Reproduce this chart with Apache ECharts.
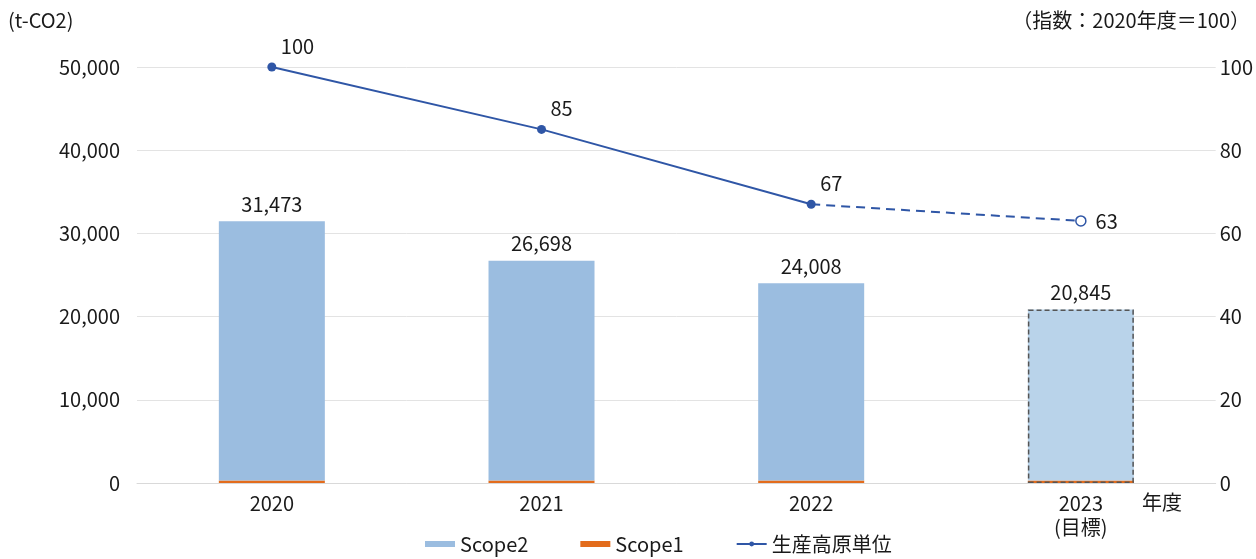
<!DOCTYPE html>
<html><head><meta charset="utf-8">
<script src="https://cdn.jsdelivr.net/npm/echarts@6/dist/echarts.min.js"></script>
<style>html,body{margin:0;padding:0;background:#fff}#c{width:1256px;height:559px}</style>
</head><body><div id="c"></div>
<script>
const categories = ['2020', '2021', '2022', '2023\n(目標)'];
const totals = [31473, 26698, 24008, 20845];
const scope1 = [300, 300, 300, 300];
const scope2 = [31173, 26398, 23708, 20545];
const intensityActual = [100, 85, 67, null];
const intensityTarget = [null, null, 67, 63];
const targetOutline = [null, null, null, 20845];

const FONT = '"Noto Sans CJK JP", "Noto Sans", sans-serif';
const FS = 20;
const TXT = '#1a1a1a';
const blue = '#2f56a6';
const chart = echarts.init(document.getElementById('c'));
chart.setOption({
  animation: false,
  textStyle: { fontFamily: FONT, color: TXT },
  grid: { left: 137, right: 39, top: 67, bottom: 76, containLabel: false },
  legend: {
    bottom: 0, left: 420, itemGap: 52, itemWidth: 30, itemHeight: 6,
    textStyle: { fontFamily: FONT, fontSize: FS, color: TXT },
    data: [
      { name: 'Scope2', icon: 'rect' },
      { name: 'Scope1', icon: 'rect' },
      { name: '生産高原単位' }
    ]
  },
  xAxis: {
    type: 'category', data: categories,
    axisLine: { lineStyle: { color: '#d9d9d9' } },
    axisTick: { show: false },
    axisLabel: { fontFamily: FONT, fontSize: FS, color: TXT, margin: 8, lineHeight: 24 }
  },
  yAxis: [
    {
      type: 'value', min: 0, max: 50000, interval: 10000,
      axisLine: { show: false }, axisTick: { show: false },
      splitLine: { lineStyle: { color: '#e3e3e3' } },
      axisLabel: { fontFamily: FONT, fontSize: FS, color: TXT, margin: 17,
        formatter: v => v.toLocaleString('en-US') }
    },
    {
      type: 'value', min: 0, max: 100, interval: 20,
      axisLine: { show: false }, axisTick: { show: false },
      splitLine: { show: false },
      axisLabel: { fontFamily: FONT, fontSize: FS, color: TXT, margin: 4 }
    }
  ],
  graphic: [
    { type: 'text', left: 8, top: 10, style: { text: '(t-CO2)', font: FS + 'px ' + FONT, fill: TXT } },
    { type: 'text', right: 6, top: 10, style: { text: '（指数：2020年度＝100）', font: FS + 'px ' + FONT, fill: TXT } },
    { type: 'text', left: 1142, top: 492, style: { text: '年度', font: FS + 'px ' + FONT, fill: TXT } }
  ],
  series: [
    {
      name: 'Scope1', type: 'bar', stack: 'total', barWidth: 106,
      itemStyle: { color: '#e36c1c' },
      data: scope1
    },
    {
      name: 'Scope2', type: 'bar', stack: 'total', barWidth: 106,
      itemStyle: { color: '#9bbde0' },
      data: scope2.map((v, i) => i === 3 ? { value: v, itemStyle: { color: '#b9d3ea' } } : v),
      label: {
        show: true, position: 'top', distance: 7, fontFamily: FONT, fontSize: FS, color: TXT,
        formatter: p => totals[p.dataIndex].toLocaleString('en-US')
      }
    },
    {
      name: 'outline', type: 'bar', barWidth: 106, barGap: '-100%',
      data: targetOutline,
      itemStyle: { color: 'rgba(0,0,0,0)', borderColor: '#555', borderWidth: 1.5, borderType: [5, 3] },
      z: 3, silent: true
    },
    {
      name: '生産高原単位', type: 'line', yAxisIndex: 1,
      data: intensityActual,
      symbol: 'circle', symbolSize: 9,
      lineStyle: { color: blue, width: 2 },
      itemStyle: { color: blue },
      label: { show: true, position: 'top', align: 'left', offset: [9, 0], distance: 6, fontFamily: FONT, fontSize: FS, color: TXT },
      z: 5
    },
    {
      name: '生産高原単位', type: 'line', yAxisIndex: 1,
      data: intensityTarget.map((v, i) => i === 3 ? {
        value: v, symbol: 'circle', symbolSize: 10,
        itemStyle: { color: '#fff', borderColor: blue, borderWidth: 1.5 },
        label: { show: true, position: 'right', distance: 9, fontFamily: FONT, fontSize: FS, color: TXT }
      } : (v == null ? null : { value: v, symbol: 'none' })),
      symbol: 'circle', symbolSize: 9,
      lineStyle: { color: blue, width: 2, type: [9, 6] },
      itemStyle: { color: blue },
      z: 4
    }
  ]
});
</script>
</body></html>
